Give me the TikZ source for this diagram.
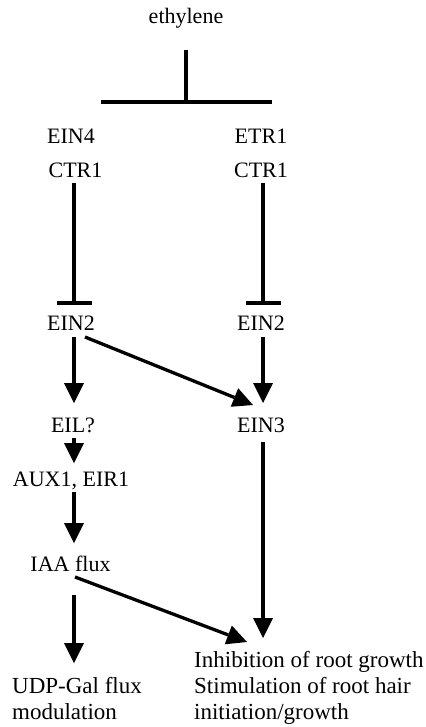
\documentclass[tikz,border=0pt]{standalone}
\usepackage{fontspec}
\setmainfont{Liberation Serif}
\usetikzlibrary{arrows.meta,calc}
\begin{document}
\begin{tikzpicture}[x=1pt,y=-1pt,
  lbl/.style={inner sep=0pt, anchor=base, font=\fontsize{22}{26}\selectfont},
  big/.style={inner sep=0pt, anchor=base west, font=\fontsize{23}{26.5}\selectfont},
  ln/.style={line width=3.3pt},
  arr/.style={ln, -{Triangle[width=20pt,length=20pt,line width=0pt]}},
  inh/.style={ln, -{Bar[width=35pt]}}]
\useasboundingbox[fill=white] (0,0) rectangle (425,727);

% nodes
\node[lbl] (eth)   at (186,24)  {ethylene};
\node[lbl] (ein4)  at (71,144)  {EIN4};
\node[lbl] (etr1)  at (261,144) {ETR1};
\node[lbl] (ctr1L) at (75.5,178) {CTR1};
\node[lbl] (ctr1R) at (261,178) {CTR1};
\node[lbl] (ein2L) at (71,330)  {EIN2};
\node[lbl] (ein2R) at (261,330) {EIN2};
\node[lbl] (eil)   at (73,432)  {EIL?};
\node[lbl] (ein3)  at (261,432) {EIN3};
\node[lbl] (aux)   at (71,486)  {AUX1, EIR1};
\node[lbl] (iaa)   at (70.5,571) {IAA flux};
\node[big] (udp1)  at (12,693)  {UDP-Gal flux};
\node[big] (udp2)  at (12,719)  {modulation};
\node[big] (inh1)  at (194,667) {Inhibition of root growth};
\node[big] (inh2)  at (194,693) {Stimulation of root hair};
\node[big] (inh3)  at (194,719) {initiation/growth};

% receptor junction
\coordinate (tj) at ($(eth.base)+(0,78)$);
\draw[ln] ($(eth.base)+(0,26)$) -- (tj);
\draw[ln] ($(tj)+(-85,0)$) -- ($(tj)+(86,0)$);

% CTR1 inhibits EIN2
\draw[inh] ($(ctr1L.base)+(-1.5,5)$) -- ($(ein2L.base)+(3,-25.5)$);
\draw[inh] ($(ctr1R.base)+(2,5)$) -- ($(ein2R.base)+(2,-25.5)$);

% arrows
\draw[arr] ($(ein2L.base)+(3,7)$) -- ($(eil.base)+(1,-29)$);
\draw[arr] ($(eil.base)+(1,6)$) -- ($(aux.base)+(3,-23)$);
\draw[arr] ($(aux.base)+(3,6)$) -- ($(iaa.base)+(3.5,-28)$);
\draw[arr] ($(iaa.base)+(3.5,24)$) -- ($(udp1.base west)+(62,-30)$);
\draw[arr] ($(ein2L.base)+(14,7)$) -- ($(ein3.base)+(-8,-27)$);
\draw[arr] ($(ein2R.base)+(2,7)$) -- ($(ein3.base)+(2,-29)$);
\draw[arr] ($(ein3.base)+(2,10)$) -- ($(inh1.base west)+(69,-29)$);
\draw[arr] ($(iaa.base)+(4.5,6)$) -- ($(inh1.base west)+(53,-25)$);
\end{tikzpicture}
\end{document}
